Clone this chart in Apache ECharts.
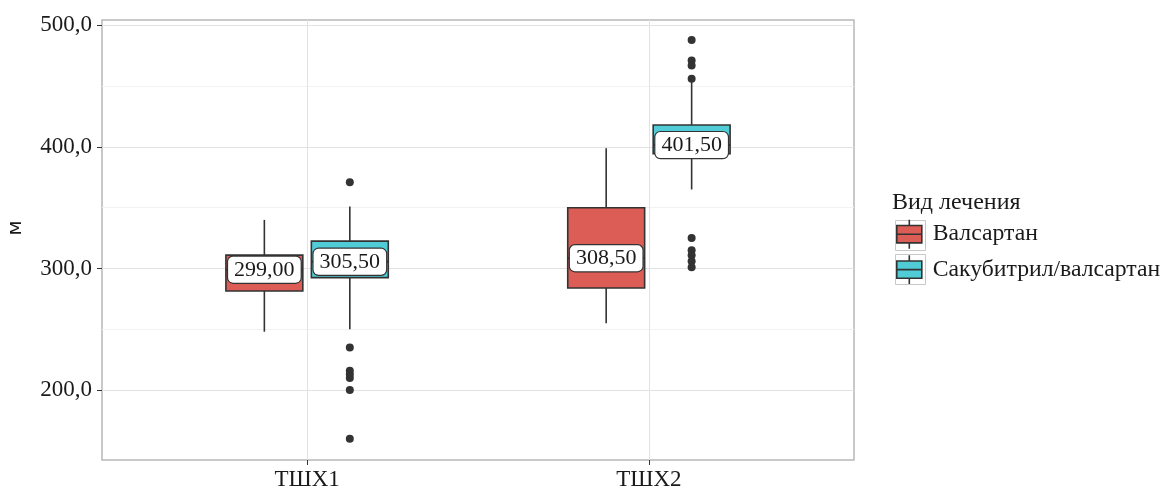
<!DOCTYPE html>
<html>
<head>
<meta charset="utf-8">
<script src="https://cdn.jsdelivr.net/npm/echarts@6/dist/echarts.min.js"></script>
<style>html,body{margin:0;padding:0;background:#fff}#c{width:1166px;height:489px}</style>
</head>
<body>
<div id="c"></div>
<script>
const categories = ['ТШХ1', 'ТШХ2'];
const treatments = ['Валсартан', 'Сакубитрил/валсартан'];
// [min whisker, Q1, median, Q3, max whisker] per category
const valsartanBox = [[248, 281.5, 299.0, 311, 340], [255, 284, 308.5, 350, 399]];
const sacubitrilBox = [[250, 292.5, 305.5, 322.5, 351], [365, 394.5, 401.5, 418, 454]];
const valsartanOutliers = [[], []];
const sacubitrilOutliers = [[371, 235, 216, 213, 210, 200, 160], [488, 471, 467, 456, 325, 315, 311, 306, 301]];
const yTicks = [200, 300, 400, 500];
const yMinorTicks = [250, 350, 450];
const yTitle = 'м';
const legendTitle = 'Вид лечения';

const SERIF = '"Liberation Serif", "DejaVu Serif", serif';
const COLORS = ['#dc5d55', '#50ccd7'];
const OFFSETS = [-0.125, 0.125];
const BOX_W = 0.225;
const STROKE = '#333333';

function fmt(v, d) { return v.toFixed(d).replace('.', ','); }

function makeRender(offset) {
  return function (params, api) {
    const x = api.value(0) + offset;
    const lo = api.coord([x, api.value(1)]);
    const q1 = api.coord([x, api.value(2)]);
    const med = api.coord([x, api.value(3)]);
    const q3 = api.coord([x, api.value(4)]);
    const hi = api.coord([x, api.value(5)]);
    const w = api.size([BOX_W, 0])[0];
    const fill = api.visual('color');
    const ls = { stroke: STROKE, lineWidth: 1.6 };
    return {
      type: 'group',
      children: [
        { type: 'line', shape: { x1: lo[0], y1: lo[1], x2: q1[0], y2: q1[1] }, style: ls },
        { type: 'line', shape: { x1: q3[0], y1: q3[1], x2: hi[0], y2: hi[1] }, style: ls },
        { type: 'rect', shape: { x: q3[0] - w / 2, y: q3[1], width: w, height: q1[1] - q3[1] }, style: { fill: fill, stroke: STROKE, lineWidth: 1.6 } },
        { type: 'line', shape: { x1: med[0] - w / 2, y1: med[1], x2: med[0] + w / 2, y2: med[1] }, style: { stroke: STROKE, lineWidth: 2 } },
        {
          type: 'text', x: med[0], y: med[1],
          style: {
            text: fmt(api.value(3), 2), align: 'center', verticalAlign: 'middle',
            fontFamily: SERIF, fontSize: 22, fill: '#1a1a1a',
            backgroundColor: '#ffffff', borderColor: STROKE, borderWidth: 1.2, borderRadius: 5,
            padding: [2, 6]
          }
        }
      ]
    };
  };
}

const boxSets = [valsartanBox, sacubitrilBox];
const outlierSets = [valsartanOutliers, sacubitrilOutliers];

const series = [];
series.push({
  name: 'grid-lines', type: 'line', data: [], z: 1, silent: true,
  markLine: {
    z: 1, silent: true, symbol: ['none', 'none'], label: { show: false }, animation: false,
    lineStyle: { color: '#e2e2e2', width: 1, type: 'solid' },
    data: [
      ...yMinorTicks.map(v => ({ yAxis: v, lineStyle: { color: '#f2f2f2', width: 1, type: 'solid' } })),
      ...yTicks.map(v => ({ yAxis: v })),
      ...categories.map((c, i) => ({ xAxis: i + 1 }))
    ]
  }
});
treatments.forEach((t, k) => {
  series.push({
    name: t, type: 'custom', z: 3,
    itemStyle: { color: COLORS[k], borderColor: STROKE, borderWidth: 1.5 },
    renderItem: makeRender(OFFSETS[k]),
    encode: { x: 0, y: [1, 2, 3, 4, 5] },
    data: boxSets[k].map((b, i) => [i + 1, ...b]),
    animation: false
  });
  const pts = [];
  outlierSets[k].forEach((arr, i) => arr.forEach(v => pts.push([i + 1 + OFFSETS[k], v])));
  series.push({
    name: t + ' outliers', type: 'scatter', z: 4, symbolSize: 8,
    itemStyle: { color: STROKE, opacity: 1 },
    data: pts, animation: false, silent: true
  });
});

const chart = echarts.init(document.getElementById('c'), null, { renderer: 'canvas' });
chart.setOption({
  animation: false,
  backgroundColor: '#ffffff',
  grid: { left: 102, right: 312, top: 20, bottom: 29, show: true, borderColor: '#b8b8b8', borderWidth: 1.5, backgroundColor: '#ffffff', containLabel: false, outerBoundsMode: 'none' },
  title: {
    text: legendTitle, left: 892, top: 191, padding: 0,
    textStyle: { fontFamily: SERIF, fontSize: 24, fontWeight: 'normal', color: '#1a1a1a' }
  },
  legend: {
    data: treatments, orient: 'vertical', left: 896, top: 219, padding: 0,
    itemWidth: 25, itemHeight: 29, itemGap: 5,
    icon: 'path://M13,0 L13,6 M0,6 L26,6 L26,24 L0,24 Z M0,15 L26,15 M13,24 L13,30',
    itemStyle: { borderColor: STROKE, borderWidth: 1.6 },
    textStyle: { fontFamily: SERIF, fontSize: 23.7, color: '#1a1a1a', padding: [0, 0, 0, 6] },
    selectedMode: false
  },
  graphic: [
    { type: 'rect', left: 893, top: 218, z: 0, shape: { width: 30, height: 30 }, style: { fill: 'none', stroke: '#c8c8c8', lineWidth: 1 } },
    { type: 'rect', left: 893, top: 252, z: 0, shape: { width: 30, height: 30 }, style: { fill: 'none', stroke: '#c8c8c8', lineWidth: 1 } }
  ],
  xAxis: {
    type: 'value', min: 0.4, max: 2.6,
    axisLine: { show: false },
    splitLine: { show: false },
    axisTick: { show: true, customValues: [1, 2], length: 5, lineStyle: { color: STROKE } },
    axisLabel: {
      customValues: [1, 2], margin: 8,
      formatter: v => categories[Math.round(v) - 1] || '',
      fontFamily: SERIF, fontSize: 23, color: '#1a1a1a'
    }
  },
  yAxis: {
    type: 'value', min: 142.5, max: 504.4,
    name: yTitle, nameLocation: 'middle', nameRotate: 90, nameGap: 76,
    nameTextStyle: { fontFamily: '"DejaVu Sans", sans-serif', fontSize: 20, color: '#1a1a1a', padding: [0, 0, 0, 24] },
    axisLine: { show: false },
    splitLine: { show: false },
    axisTick: { show: true, customValues: yTicks, length: 5, lineStyle: { color: STROKE } },
    axisLabel: {
      customValues: yTicks, margin: 10,
      formatter: v => fmt(v, 1),
      fontFamily: SERIF, fontSize: 23, color: '#1a1a1a'
    }
  },
  series: series
});
</script>
</body>
</html>
